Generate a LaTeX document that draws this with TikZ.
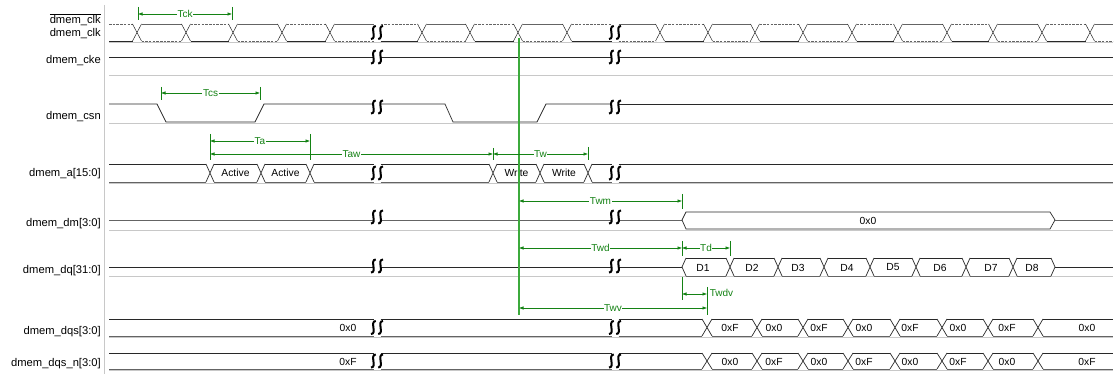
\documentclass[tikz,border=0pt]{standalone}
\usepackage{fontspec}
\setmainfont{Liberation Sans}
\usetikzlibrary{arrows.meta}
\definecolor{wave}{RGB}{40,40,40}
\definecolor{wgray}{RGB}{100,100,100}
\definecolor{basec}{RGB}{200,200,200}
\definecolor{ann}{RGB}{20,130,20}
\definecolor{vlinec}{RGB}{60,170,60}
\newcommand{\brkmark}[2]{%
  \foreach \sx in {-3.6,3.6}{%
    \draw[brk] ({#1+\sx+2.4},{#2-6.5}) .. controls ({#1+\sx-4},{#2-6.5}) and ({#1+\sx+4},{#2+6.5}) .. ({#1+\sx-2.4},{#2+6.5});}}
\newcommand{\bxing}[4]{% x, top, bottom, half width
  \draw[wv] ({#1-#4},#2) -- ({#1+#4},#3) ({#1-#4},#3) -- ({#1+#4},#2);}
\newcommand{\bseg}[4]{% x1, x2, top, bottom
  \draw[wv] (#1,#3) -- (#2,#3);
  \draw[wvg] (#1,#4) -- (#2,#4);}
\begin{document}
\begin{tikzpicture}[x=1pt,y=-1pt,
  siglabel/.style={anchor=east,inner sep=0pt,font=\fontsize{11.2}{13}\selectfont},
  busval/.style={inner sep=0pt,font=\fontsize{10.3}{12}\selectfont},
  annlabel/.style={fill=white,inner sep=0.6pt,text=ann,font=\fontsize{10}{12}\selectfont},
  wv/.style={line width=0.7pt,draw=wave},
  wvg/.style={line width=0.9pt,draw=wgray},
  dsh/.style={line width=0.6pt,draw=wgray,dash pattern=on 2.5pt off 1.2pt},
  rowbase/.style={line width=0.9pt,draw=basec},
  meas/.style={draw=ann,line width=0.6pt,{Latex[length=4.5pt,width=3.5pt]}-{Latex[length=4.5pt,width=3.5pt]}},
  tickln/.style={draw=ann,line width=0.6pt},
  brk/.style={line width=2pt,draw=black},
]
\useasboundingbox (0,0) rectangle (1117,374);
\fill[white] (0,0) rectangle (1117,374);
% separator
\draw[line width=0.9pt,draw=basec] (104,5) -- (104,374);
% row baselines
\foreach \yb in {42.6,75,123.8,183.3,230.5,276.6,337.6,370.4}{
  \draw[rowbase] (109,\yb) -- (1113,\yb);}
% labels
\node[siglabel] (lclkn) at (101,20) {$\overline{\hbox{dmem\_clk}}$};
\node[siglabel] (lclk) at (101,34) {dmem\_clk};
\node[siglabel] (lcke) at (101,61) {dmem\_cke};
\node[siglabel] (lcsn) at (101,117) {dmem\_csn};
\node[siglabel] (la) at (101,174) {dmem\_a[15:0]};
\node[siglabel] (ldm) at (101,224) {dmem\_dm[3:0]};
\node[siglabel] (ldq) at (101,271) {dmem\_dq[31:0]};
\node[siglabel] (ldqs) at (101,332) {dmem\_dqs[3:0]};
\node[siglabel] (ldqsn) at (101,364) {dmem\_dqs\_n[3:0]};
% clock
\foreach \a/\b/\s in {109/132.5/0, 141.5/181.5/1, 190.5/228.5/0, 237.5/277.5/1, 286.5/325.5/0, 334.5/373.5/1,
  380.5/417.5/0, 426.5/465.5/1, 474.5/513.5/0, 522.5/562.5/1, 571.5/611.5/0,
  618.5/655.5/1, 664.5/703.5/0, 712.5/750.5/1, 759.5/798.5/0, 807.5/847.5/1, 856.5/893.5/0,
  902.5/942.5/1, 951.5/988.5/0, 997.5/1037.5/1, 1046.5/1085.5/0, 1094.5/1113/1}{
  \ifnum\s=1
    \draw[wvg] (\a,24) -- (\b,24);
    \draw[dsh] (\a,41) -- (\b,41);
  \else
    \draw[dsh] (\a,24) -- (\b,24);
    \draw[wv] (\a,41) -- (\b,41);
  \fi}
\foreach \cx in {137,186,233,282,330,422,470,518,567,660,708,755,803,852,898,947,993,1042,1090}{
  \draw[line width=0.5pt,draw=wave] ({\cx-4.5},24) -- ({\cx+4.5},41) ({\cx-4.5},41) -- ({\cx+4.5},24);}
% cke
\draw[wv] (109,57) -- (373.5,57) (380.5,57) -- (611.5,57) (618.5,57) -- (1113,57);
% csn
\draw[wv] (109,104) -- (157,104) -- (166,122) -- (255,122) -- (264,104) -- (373.5,104);
\draw[wv] (380.5,104) -- (445,104) -- (453,122) -- (537,122) -- (546,104) -- (611.5,104);
\draw[wv] (618.5,104) -- (1113,104);
% dmem_a
\foreach \a/\b in {109/206, 214/257, 265/306, 314/373.5, 380.5/489, 497/536, 544/584, 592/611.5, 618.5/1113}{
  \bseg{\a}{\b}{164}{182}}
\foreach \cx in {210,261,310,493,540,588}{\bxing{\cx}{164}{182}{4}}
\node[busval] (va1) at (235.5,173) {Active};
\node[busval] (va2) at (285.5,173) {Active};
\node[busval] (vw1) at (516.5,173) {Write};
\node[busval] (vw2) at (564,173) {Write};
% dmem_dm
\draw[wvg] (109,220) -- (373.5,220) (380.5,220) -- (611.5,220) (618.5,220) -- (682,220);
\draw[wv] (682,220) -- (686,212) -- (1050,212) -- (1055,220) -- (1050,229) -- (686,229) -- cycle;
\draw[wvg] (1055,220) -- (1113,220);
\node[busval] (vdm) at (868,220.5) {0x0};
% dmem_dq
\draw[wv] (109,267) -- (373.5,267) (380.5,267) -- (611.5,267) (618.5,267) -- (682,267);
\draw[wv] (682,267) -- (686,258) (682,267) -- (686,276);
\foreach \a/\b in {686/726, 734/774, 782/820, 828/866, 874/912, 920/962, 970/1009, 1017/1051}{
  \bseg{\a}{\b}{258}{276}}
\foreach \cx in {730,778,824,870,916,966,1013}{\bxing{\cx}{258}{276}{4}}
\draw[wv] (1051,258) -- (1055,267) -- (1051,276);
\draw[wv] (1055,267) -- (1113,267);
\foreach \vx/\vt in {703/D1, 752/D2, 798/D3, 847/D4, 893/D5, 940/D6, 991/D7, 1032/D8}{
  \node[busval] (d\vt) at (\vx,267.5) {\vt};}
% dmem_dqs and dmem_dqs_n
\foreach \a/\b in {109/373.5, 380.5/611.5, 618.5/702, 712/752, 762/798, 808/843, 853/890, 900/937, 947/983, 993/1033, 1043/1113}{
  \bseg{\a}{\b}{319}{336}
  \bseg{\a}{\b}{353}{369}}
\foreach \cx in {707,757,803,848,895,942,988,1038}{
  \bxing{\cx}{319}{336}{5}
  \bxing{\cx}{353}{369}{5}}
\node[busval] (vs0) at (348,328) {0x0};
\node[busval] (vn0) at (348,361.5) {0xF};
\foreach \vx/\vs/\vn [count=\i] in {730/0xF/0x0, 774/0x0/0xF, 819/0xF/0x0, 864/0x0/0xF, 910/0xF/0x0, 958/0x0/0xF, 1007/0xF/0x0, 1087/0x0/0xF}{
  \node[busval] (vs\i) at (\vx,328) {\vs};
  \node[busval] (vn\i) at (\vx,361.5) {\vn};}
% break marks
\foreach \bx in {377,615}{
  \foreach \by in {32.5,57,107,173,217,266,327.5,361}{\brkmark{\bx}{\by}}}
% green reference line
\coordinate (vtop) at (519,38);
\coordinate (vbot) at (519,315);
\draw[draw=vlinec,line width=1.2pt] (vtop) -- (vbot);
% annotations
\coordinate (tck1) at (138,14); \coordinate (tck2) at (232,14);
\draw[tickln] (138,7) -- (138,20) (232,7) -- (232,20);
\draw[meas] (tck1) -- node[annlabel] (ltck) {Tck} (tck2);
\coordinate (tcs1) at (161,93); \coordinate (tcs2) at (260,93);
\draw[tickln] (161,87) -- (161,100) (260,87) -- (260,100);
\draw[meas] (tcs1) -- node[annlabel] (ltcs) {Tcs} (tcs2);
\coordinate (ta1) at (210,141); \coordinate (ta2) at (310,141);
\draw[tickln] (210,134) -- (210,160) (310,134) -- (310,160);
\draw[meas] (ta1) -- node[annlabel] (lta) {Ta} (ta2);
\coordinate (taw1) at (210,154); \coordinate (taw2) at (493,154);
\draw[tickln] (493,148) -- (493,160) (588,147) -- (588,160);
\draw[meas] (taw1) -- node[annlabel] (ltaw) {Taw} (taw2);
\coordinate (tw2) at (588,154);
\draw[meas] (taw2) -- node[annlabel] (ltw) {Tw} (tw2);
\coordinate (twm1) at (519,201); \coordinate (twm2) at (682,201);
\draw[tickln] (682,194) -- (682,209);
\draw[meas] (twm1) -- node[annlabel] (ltwm) {Twm} (twm2);
\coordinate (twd1) at (519,248); \coordinate (twd2) at (682,248); \coordinate (td2) at (730,248);
\draw[tickln] (682,241) -- (682,256) (730,241) -- (730,256);
\draw[meas] (twd1) -- node[annlabel] (ltwd) {Twd} (twd2);
\draw[meas] (twd2) -- node[annlabel] (ltd) {Td} (td2);
\coordinate (tdv1) at (682,294); \coordinate (tdv2) at (707,294);
\draw[tickln] (682,277) -- (682,300) (707,287) -- (707,315);
\draw[meas] (tdv1) -- (tdv2);
\node[annlabel,fill=none,anchor=west] (ltdv) at (709,293) {Twdv};
\coordinate (twv1) at (519,308); \coordinate (twv2) at (707,308);
\draw[meas] (twv1) -- node[annlabel] (ltwv) {Twv} (twv2);
\end{tikzpicture}
\end{document}
